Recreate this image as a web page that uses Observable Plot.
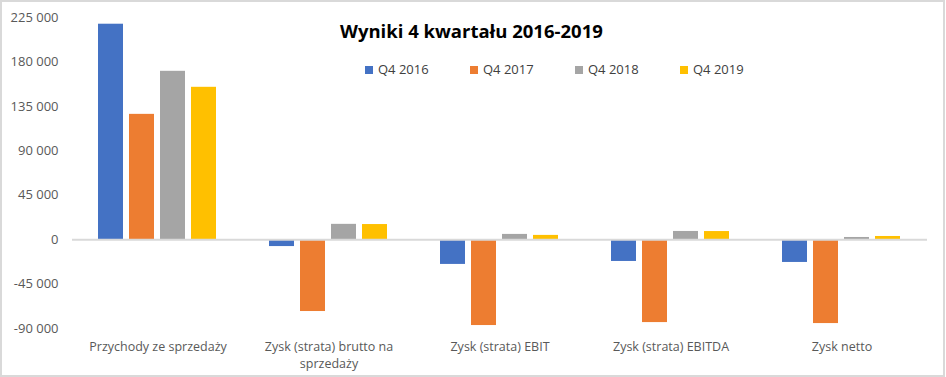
<!DOCTYPE html>
<html><head><meta charset="utf-8">
<script src="https://cdn.jsdelivr.net/npm/d3@7"></script>
<script src="https://cdn.jsdelivr.net/npm/@observablehq/plot@0.6"></script>
<style>
body{margin:0;background:#fff;}
#chart{position:relative;width:946px;height:377px;overflow:hidden;font-family:"Open Sans",sans-serif;background:#fff;}
#chart svg{position:absolute;left:0;top:0;}
#border{position:absolute;left:0;top:0;width:945px;height:377px;box-sizing:border-box;border:2px solid #d9d9d9;pointer-events:none;}
#title{position:absolute;left:0;width:946px;top:18px;font-family:"Open Sans",sans-serif;font-weight:bold;font-size:18.5px;color:#000;}
#title span{position:absolute;left:340px;white-space:nowrap;}
.leg{position:absolute;top:60px;font-size:13px;color:#404040;white-space:nowrap;line-height:19px;}
.leg i{display:inline-block;width:8px;height:8px;margin-right:5px;vertical-align:0px;}
</style>
</head><body>
<div id="chart"></div>
<script>
const categories = ["Przychody ze sprzedaży", "Zysk (strata) brutto na sprzedaży", "Zysk (strata) EBIT", "Zysk (strata) EBITDA", "Zysk netto"];
const categoryLabels = ["Przychody ze sprzedaży", "Zysk (strata) brutto na\nsprzedaży", "Zysk (strata) EBIT", "Zysk (strata) EBITDA", "Zysk netto"];
const seriesNames = ["Q4 2016", "Q4 2017", "Q4 2018", "Q4 2019"];
const seriesColors = ["#4472c4", "#ed7d31", "#a5a5a5", "#ffc000"];
const q4_2016 = [218200, -7000, -25100, -22100, -23100];
const q4_2017 = [126900, -72800, -87000, -84000, -85000];
const q4_2018 = [170500, 15500, 5300, 8300, 2200];
const q4_2019 = [154300, 15300, 4300, 8200, 3200];
const yTicks = [-90000, -45000, 0, 45000, 90000, 135000, 180000, 225000];
const titleText = "Wyniki 4 kwartału 2016-2019";

const seriesValues = [q4_2016, q4_2017, q4_2018, q4_2019];
const rows = [];
categories.forEach((c, i) => seriesNames.forEach((s, j) => rows.push({category: c, series: s, value: seriesValues[j][i]})));

const fmt = v => (v < 0 ? "-" : "") + d3.format(",")(Math.abs(v)).replace(/,/g, " ");

const chart = Plot.plot({
  width: 946,
  height: 377,
  marginLeft: 71,
  marginRight: 19,
  marginTop: 17,
  marginBottom: 49,
  style: {fontFamily: "Open Sans, sans-serif", fontSize: "13px", color: "#595959", background: "transparent"},
  fx: {domain: categories, padding: 0, label: null},
  x: {domain: seriesNames, paddingInner: 0.19, paddingOuter: 0.85, axis: null},
  y: {domain: [-90000, 225000], label: null},
  color: {domain: seriesNames, range: seriesColors},
  marks: [
    Plot.barY(rows, {fx: "category", x: "series", y: "value", fill: "series"}),
    Plot.ruleY([0], {stroke: "#d9d9d9", strokeWidth: 2}),
    Plot.axisY({ticks: yTicks, tickFormat: fmt, tickSize: 0, tickPadding: 14, label: null, fontSize: 13}),
    Plot.axisFx({anchor: "bottom", tickSize: 0, tickPadding: 10, label: null, tickFormat: c => categoryLabels[categories.indexOf(c)], lineAnchor: "top", lineHeight: 1.4, fontSize: 12.5})
  ]
});

const root = document.getElementById("chart");
root.appendChild(chart);

const title = document.createElement("div");
title.id = "title";
const tspan = document.createElement("span");
tspan.textContent = titleText;
title.appendChild(tspan);
root.appendChild(title);

const legendLeft = [365, 470, 575, 680];
seriesNames.forEach((s, j) => {
  const d = document.createElement("div");
  d.className = "leg";
  d.style.left = legendLeft[j] + "px";
  const sw = document.createElement("i");
  sw.style.background = seriesColors[j];
  d.appendChild(sw);
  d.appendChild(document.createTextNode(s));
  root.appendChild(d);
});

const b = document.createElement("div");
b.id = "border";
root.appendChild(b);
</script>
</body></html>
